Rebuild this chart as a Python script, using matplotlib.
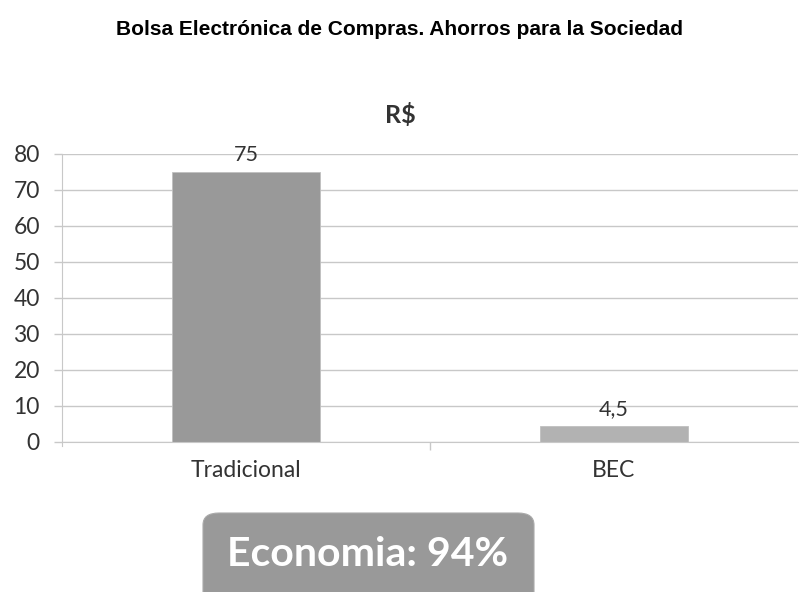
import matplotlib.pyplot as plt
from matplotlib.patches import FancyBboxPatch
from matplotlib.ticker import MultipleLocator, FixedLocator

categories = ['Tradicional', 'BEC']
values = [75, 4.5]
value_labels = ['75', '4,5']
bar_colors = ['#999999', '#b2b2b2']

title = 'Bolsa Electrónica de Compras. Ahorros para la Sociedad'
chart_title = 'R$'
note = 'Economia: 94%'

body_font = ['Lato', 'DejaVu Sans']
grid_color = '#c8c8c8'

fig = plt.figure(figsize=(8, 5.92), dpi=100)
ax = fig.add_axes([0.0775, 0.2534, 0.92, 0.4865])

x = list(range(len(categories)))
ax.bar(x, values, width=0.4, color=bar_colors, edgecolor='#c0c0c0', linewidth=0.6, zorder=2)
for xi, v, lab in zip(x, values, value_labels):
    ax.annotate(lab, (xi, v), xytext=(0, 5), textcoords='offset points',
                ha='center', va='bottom', fontsize=15.5, color='#333333', family=body_font)

ax.set_xlim(-0.5, 1.5)
ax.set_ylim(0, 80)
ax.yaxis.set_major_locator(MultipleLocator(10))
ax.yaxis.grid(True, color=grid_color, linewidth=1, zorder=0)
ax.set_axisbelow(True)

ax.set_xticks(x)
ax.set_xticklabels(categories)
ax.xaxis.set_minor_locator(FixedLocator([0.5]))
ax.tick_params(axis='x', which='major', length=0, pad=13, labelsize=16.5, labelcolor='#333333')
ax.tick_params(axis='x', which='minor', length=6, color=grid_color, width=1)
ax.tick_params(axis='y', length=6, color=grid_color, width=1, pad=10, labelsize=16.5, labelcolor='#333333')
for lab in ax.get_xticklabels() + ax.get_yticklabels():
    lab.set_family(body_font)

for s in ['top', 'right']:
    ax.spines[s].set_visible(False)
ax.spines['left'].set_color(grid_color)
ax.spines['bottom'].set_color(grid_color)
ax.spines['left'].set_bounds(-1.2, 80)

fig.text(0.5, 0.951, title, ha='center', va='center', fontsize=15,
         fontweight='bold', family=['Liberation Sans', 'DejaVu Sans'])
fig.text(0.5, 0.806, chart_title, ha='center', va='center', fontsize=18,
         fontweight='bold', color='#333333', family=body_font)

box = FancyBboxPatch((203 / 800, -0.05), (534 - 203) / 800, (592 - 513) / 592 + 0.05,
                     boxstyle='round,pad=0,rounding_size=0.02', transform=fig.transFigure,
                     facecolor='#999999', edgecolor='#aaaaaa', linewidth=0.8)
fig.patches.append(box)
fig.text(368 / 800, 1 - 555 / 592, note, ha='center', va='center', fontsize=29.5,
         fontweight='bold', color='white', family=body_font)

fig.savefig('out.png', dpi=100)
